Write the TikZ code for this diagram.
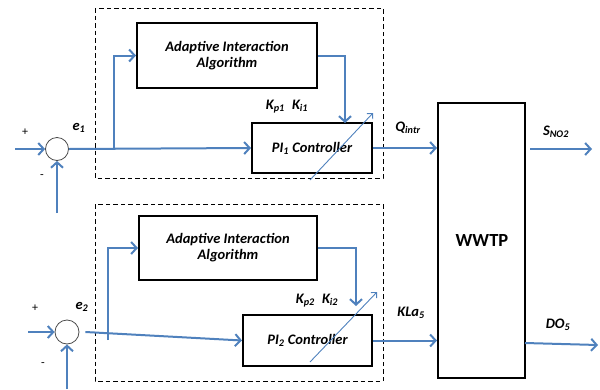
\documentclass[tikz,border=0pt]{standalone}
\usepackage{fontspec}
\setmainfont{Carlito}
\usetikzlibrary{positioning,arrows.meta}
\definecolor{linkblue}{RGB}{79,129,189}

\begin{document}
\begin{tikzpicture}[x=1pt,y=-1pt,font=\bfseries\itshape\fontsize{14.5}{16}\selectfont,
    block/.style={draw,line width=2pt,rectangle,align=center,inner sep=0pt},
    sumnode/.style={draw,black!70,circle,line width=0.8pt,inner sep=0pt},
    link/.style={linkblue,line width=2pt,-{Straight Barb[length=5.5pt,width=12pt]}},
    tuner/.style={linkblue,line width=0.9pt,-{Straight Barb[length=4pt,width=8pt]}},
    frame/.style={draw,dash pattern=on 4.5pt off 3pt,line width=1pt},
    lbl/.style={inner sep=0pt}]
    \useasboundingbox (0,0) rectangle (600,389);
    %%%%% THE TOP LOOP
    \begin{scope}
      \draw[frame] (95,8) rectangle (383,178);
      \node[block,minimum width=180pt,minimum height=65pt] (AIA1) at (227,55.5) {Adaptive Interaction\\Algorithm};
      \node[block,minimum width=120pt,minimum height=50pt] (PI1) at (312,148) {PI\textsubscript{1} Controller};
      \node[sumnode,minimum size=23pt] (SUM1) at (57,149) {};
      \coordinate (IN1) at (15,149);
      \coordinate (FB1) at (57,213);
      \coordinate (BR1) at (114,149);
      \coordinate (K1) at (345,123);
      \coordinate (T1a) at (310,180);
      \coordinate (T1b) at (373,113);
      % labels
      \node[lbl,font=\fontsize{12}{13}\selectfont] (PLUS1) at (25,132) {+};
      \node[lbl,font=\fontsize{12}{13}\selectfont] (MINUS1) at (42,177) {-};
      \node[lbl] (E1) at (79,128) {e\textsubscript{1}};
      \node[lbl] (KP1) at (287,107) {K\textsubscript{p1}\enspace K\textsubscript{i1}};
    \end{scope}
    %%%%% THE BOTTOM LOOP
    \begin{scope}
      \draw[frame] (95,204) rectangle (383,381);
      \node[block,minimum width=178pt,minimum height=64pt] (AIA2) at (228,248) {Adaptive Interaction\\Algorithm};
      \node[block,minimum width=129pt,minimum height=51pt] (PI2) at (307.5,340.5) {PI\textsubscript{2} Controller};
      \node[sumnode,minimum size=24pt] (SUM2) at (67,332) {};
      \coordinate (IN2) at (28,332);
      \coordinate (FB2) at (67,389);
      \coordinate (BR2) at (108,340);
      \coordinate (K2) at (356,306);
      \coordinate (T2a) at (310,362);
      \coordinate (T2b) at (377,292);
      % labels
      \node[lbl,font=\fontsize{12}{13}\selectfont] (PLUS2) at (35,308) {+};
      \node[lbl,font=\fontsize{12}{13}\selectfont] (MINUS2) at (43,365) {-};
      \node[lbl] (E2) at (82,307) {e\textsubscript{2}};
      \node[lbl] (KP2) at (317,301) {K\textsubscript{p2}\enspace K\textsubscript{i2}};
    \end{scope}
    %%%%% THE PLANT
    \node[block,minimum width=87pt,minimum height=275pt] (WWTP) at (481.5,240.5) {};
    \node[lbl,font=\bfseries\fontsize{18.5}{20}\selectfont] (WWTPTXT) at (482,240) {WWTP};
    \coordinate (S1a) at (530,149);
    \coordinate (S1b) at (592,149);
    \coordinate (S2a) at (525,343);
    \coordinate (S2b) at (598,345);
    \node[lbl] (QIN) at (408,128) {Q\textsubscript{intr}};
    \node[lbl] (KLA) at (411,313) {KLa\textsubscript{5}};
    \node[lbl] (SNO) at (556,132) {S\textsubscript{NO2}};
    \node[lbl] (DO) at (558,325) {DO\textsubscript{5}};
    %%%% LINKS
    \draw[link] (IN1) -- (SUM1.west);
    \draw[link] (FB1) -- (SUM1.south);
    \draw[link] (SUM1.east) -- (PI1.west);
    \draw[link] (BR1) |- (AIA1.west);
    \draw[link] (AIA1.east) -| (K1);
    \draw[tuner] (T1a) -- (T1b);
    \draw[link] (PI1.east) -- (PI1.east -| WWTP.west);
    \draw[link] (S1a) -- (S1b);
    \draw[link] (IN2) -- (SUM2.west);
    \draw[link] (FB2) -- (SUM2.south);
    \draw[link] ([xshift=6pt]SUM2.east) -- (PI2.west);
    \draw[link] (BR2) |- (AIA2.west);
    \draw[link] (AIA2.east) -| (K2);
    \draw[tuner] (T2a) -- (T2b);
    \draw[link] (PI2.east) -- (PI2.east -| WWTP.west);
    \draw[link] (S2a) -- (S2b);
\end{tikzpicture}
\end{document}
